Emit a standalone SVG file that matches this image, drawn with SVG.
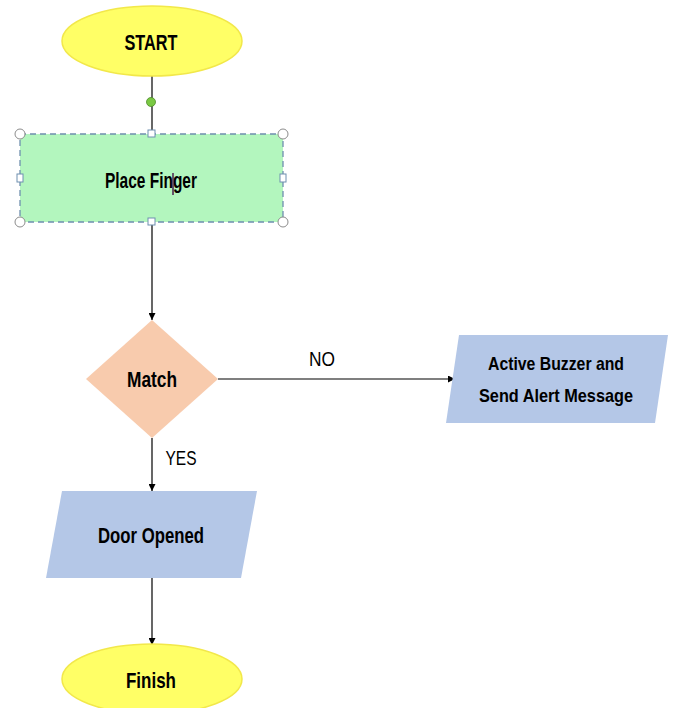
<svg xmlns="http://www.w3.org/2000/svg" width="673" height="708" viewBox="0 0 673 708">
<defs>
<marker id="arr" viewBox="0 0 10 10" refX="10" refY="5" markerWidth="7" markerHeight="7" markerUnits="userSpaceOnUse" orient="auto">
<path d="M0,0 L10,5 L0,10 z" fill="#000"/>
</marker>
<style>
.t{font-family:"Liberation Sans",Arial,sans-serif;font-weight:bold;font-size:22px;fill:#000;text-anchor:middle}
.s{font-size:19px}
.l{font-family:"Liberation Sans",Arial,sans-serif;font-size:21px;fill:#000;text-anchor:middle}
.term{fill:#FFFF66;stroke:#F2E84A;stroke-width:1.5}
.io{fill:#B4C7E7;stroke:none}
.conn line{stroke:#000;stroke-width:1.2;marker-end:url(#arr)}
.hc{fill:#fff;stroke:#8C8C8C;stroke-width:1}
.hs{fill:#fff;stroke:#6F8FB0;stroke-width:1}
</style>
</defs>
<rect width="673" height="708" fill="#fff"/>
<g class="conn">
<line x1="152" y1="76" x2="152" y2="134" style="marker-end:none"/>
<line x1="152" y1="222" x2="152" y2="320"/>
<line x1="218" y1="379" x2="455" y2="379"/>
<line x1="152" y1="438" x2="152" y2="491"/>
<line x1="152" y1="578" x2="152" y2="645"/>
</g>
<g id="start">
<ellipse class="term" cx="152" cy="41" rx="90" ry="35"/>
<text class="t" x="151" y="50" textLength="53" lengthAdjust="spacingAndGlyphs">START</text>
</g>
<g id="dot">
<circle cx="151" cy="102" r="4.5" fill="#7AC943" stroke="#4E8A2A" stroke-width="0.8"/>
</g>
<g id="place">
<rect x="20" y="134" width="263" height="88" fill="#B3F6BE" stroke="#6F8FAF" stroke-width="1.3" stroke-dasharray="6,4"/>
<text class="t" x="151" y="188" textLength="92" lengthAdjust="spacingAndGlyphs">Place Finger</text>
<line x1="173" y1="173" x2="173" y2="195" stroke="#4B1E4B" stroke-width="1.5"/>
<circle class="hc" cx="20" cy="134" r="5"/>
<circle class="hc" cx="283" cy="134" r="5"/>
<circle class="hc" cx="20" cy="222" r="5"/>
<circle class="hc" cx="283" cy="222" r="5"/>
<rect class="hs" x="148" y="130" width="7" height="7"/>
<rect class="hs" x="148" y="218" width="7" height="7"/>
<rect class="hs" x="17" y="174" width="6" height="8"/>
<rect class="hs" x="280" y="174" width="6" height="8"/>
</g>
<g id="match">
<polygon points="152,320 218,379 152,438 86,379" fill="#F8CBAD"/>
<text class="t" x="152" y="387" textLength="50" lengthAdjust="spacingAndGlyphs">Match</text>
</g>
<g id="alert">
<polygon class="io" points="459,335 668,335 655,423 446,423"/>
<text class="t s" x="556" y="370" textLength="136" lengthAdjust="spacingAndGlyphs">Active Buzzer and</text>
<text class="t s" x="556" y="402" textLength="154" lengthAdjust="spacingAndGlyphs">Send Alert Message</text>
</g>
<g id="labels">
<text class="l" x="322" y="366" textLength="26" lengthAdjust="spacingAndGlyphs">NO</text>
<text class="l" x="181" y="465" textLength="31" lengthAdjust="spacingAndGlyphs">YES</text>
</g>
<g id="door">
<polygon class="io" points="62,491 257,491 241,578 46,578"/>
<text class="t" x="151" y="543" textLength="106" lengthAdjust="spacingAndGlyphs">Door Opened</text>
</g>
<g id="finish">
<ellipse class="term" cx="152" cy="679" rx="90" ry="35"/>
<text class="t" x="151" y="688" textLength="50" lengthAdjust="spacingAndGlyphs">Finish</text>
</g>
</svg>
